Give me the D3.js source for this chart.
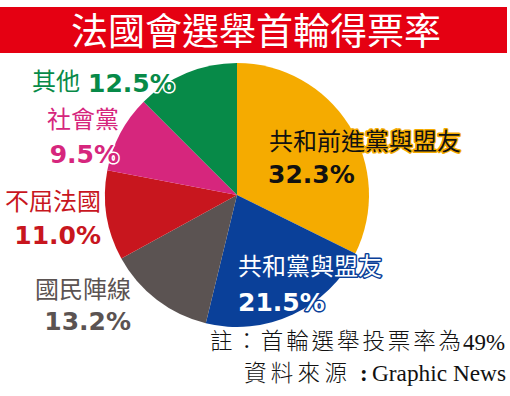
<!DOCTYPE html>
<html><head><meta charset="utf-8">
<script src="https://cdn.jsdelivr.net/npm/d3@7"></script>
<style>
html,body{margin:0;padding:0;background:#fff;}
svg{display:block;}
</style></head>
<body>
<script>
// ---- data ----
const title = "法國會選舉首輪得票率";
const categories = ["共和前進黨與盟友", "共和黨與盟友", "國民陣線", "不屈法國", "社會黨", "其他"];
const values = [32.3, 21.5, 13.2, 11.0, 9.5, 12.5];
const valueLabels = ["32.3%", "21.5%", "13.2%", "11.0%", "9.5%", "12.5%"];
const colors = ["#f5ab00", "#0a4099", "#5b5352", "#c8161e", "#d6267d", "#078a48"];
const noteLine1 = ["註：首輪選舉投票率為", "49%"];
const noteLine2 = ["資料來源", ":", "Graphic News"];

// ---- layout (not data) ----
const W = 510, H = 396;
const cx = 237, cy = 195, R = 132;
const cjk = "'Noto Sans CJK TC','Noto Sans CJK SC',sans-serif";
const num = "'DejaVu Sans',sans-serif";
const labelLayout = [
  {nx:269, ny:150, na:"start", vx:268, vy:183, va:"start", nFill:"#111", nStroke:"#f5ab00", vFill:"#111", vStroke:null},
  {nx:238, ny:275, na:"start", vx:238, vy:311, va:"start", nFill:"#fff", nStroke:"#0a4099", vFill:"#fff", vStroke:"#0a4099"},
  {nx:131, ny:298, na:"end", vx:131, vy:330, va:"end", nFill:null, nStroke:"#fff", vFill:null, vStroke:"#fff"},
  {nx:101, ny:210, na:"end", vx:101, vy:244, va:"end", nFill:null, nStroke:"#fff", vFill:null, vStroke:"#fff"},
  {nx:119, ny:128, na:"end", vx:119, vy:163, va:"end", nFill:null, nStroke:"#fff", vFill:null, vStroke:"#fff"},
  {nx:80, ny:90, na:"end", vx:88, vy:92, va:"start", nFill:null, nStroke:"#fff", vFill:null, vStroke:"#fff"}
];

const svg = d3.select("body").append("svg").attr("width", W).attr("height", H);

// title bar
svg.append("rect").attr("x", 0).attr("y", 7).attr("width", 507).attr("height", 46).attr("fill", "#e50012");
svg.append("text").attr("x", 256).attr("y", 45).attr("text-anchor", "middle")
  .attr("font-family", cjk).attr("font-size", 37).attr("fill", "#fff").text(title);

// pie
const pie = d3.pie().sort(null).value(d => d)(values);
const arc = d3.arc().innerRadius(0).outerRadius(R);
const g = svg.append("g").attr("transform", `translate(${cx},${cy})`);
g.selectAll("path").data(pie).join("path")
  .attr("d", arc).attr("fill", (d, i) => colors[i]);

// labels
categories.forEach((c, i) => {
  const L = labelLayout[i];
  const nt = svg.append("text").attr("x", L.nx).attr("y", L.ny).attr("text-anchor", L.na)
    .attr("font-family", cjk).attr("font-size", 24).attr("font-weight", 400)
    .attr("fill", L.nFill || colors[i]).text(c);
  if (L.nStroke) nt.attr("stroke", L.nStroke).attr("stroke-width", 3).attr("stroke-linejoin", "round").attr("paint-order", "stroke");
  const vt = svg.append("text").attr("x", L.vx).attr("y", L.vy).attr("text-anchor", L.va)
    .attr("font-family", num).attr("font-size", 25).attr("font-weight", "bold")
    .attr("fill", L.vFill || colors[i]).text(valueLabels[i]);
  if (L.vStroke) vt.attr("stroke", L.vStroke).attr("stroke-width", 3).attr("stroke-linejoin", "round").attr("paint-order", "stroke");
});

// footnotes (CJK characters placed on a fixed pitch)
const nfs = 22.5;
const noteFont = "'Liberation Serif','Noto Sans CJK TC',serif";
function spaced(str, x0, pitch) { return Array.from(str).map((ch, k) => (x0 + k * pitch).toFixed(1)).join(" "); }
svg.append("text").attr("x", spaced(noteLine1[0], 210, 25.4)).attr("y", 349).attr("font-family", cjk).attr("font-weight", 300)
  .attr("font-size", nfs).attr("fill", "#111").text(noteLine1[0]);
svg.append("text").attr("x", 463).attr("y", 350).attr("font-family", noteFont)
  .attr("font-size", 23).attr("fill", "#111").attr("textLength", 42).attr("lengthAdjust", "spacingAndGlyphs").text(noteLine1[1]);
svg.append("text").attr("x", spaced(noteLine2[0], 244, 26.8)).attr("y", 381).attr("font-family", cjk).attr("font-weight", 300)
  .attr("font-size", nfs).attr("fill", "#111").text(noteLine2[0]);
svg.append("text").attr("x", 360).attr("y", 381).attr("font-family", noteFont).attr("font-weight", "bold")
  .attr("font-size", 23).attr("fill", "#111").text(noteLine2[1]);
svg.append("text").attr("x", 372).attr("y", 381).attr("font-family", noteFont)
  .attr("font-size", 23).attr("fill", "#111").attr("textLength", 134).attr("lengthAdjust", "spacingAndGlyphs").text(noteLine2[2]);
</script>
</body></html>
